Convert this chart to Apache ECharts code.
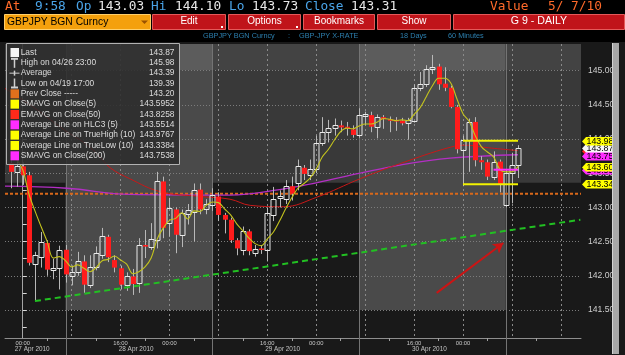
<!DOCTYPE html>
<html>
<head>
<meta charset="utf-8">
<script src="https://cdn.jsdelivr.net/npm/echarts@6.0.0/dist/echarts.min.js"></script>
<style>
html,body{margin:0;padding:0;background:#000;overflow:hidden;}
#chart{width:625px;height:355px;}
</style>
</head>
<body>
<div id="chart"></div>
<script>
// ---------------- data (hourly bars, hour 0 = 27 Apr 2010 00:00) ----------------
const hours = [-2,-1,0,1,2,3,4,5,6,7,8,9,10,11,12,13,14,15,16,17,18,19,20,21,22,23,24,25,26,27,28,29,30,31,32,33,34,35,36,37,38,39,40,41,42,43,44,45,46,47,48,49,50,51,52,53,54,55,56,57,58,59,60,61,62,63,64,65,66,67,68,69,70,71,72,73,74,75,76,77,78,79,80,81];
const opens = [
 143.65,143.52,143.60,143.47,142.17,142.28,142.48,142.10,142.11,142.38,
 142.00,142.06,142.21,141.87,142.13,142.31,142.57,142.23,142.11,141.87,
 141.99,141.89,142.45,142.42,142.52,143.38,142.77,142.97,142.60,142.91,
 142.94,143.26,142.98,143.03,143.16,142.89,142.82,142.52,142.38,142.65,
 142.34,142.40,142.38,142.89,143.14,143.12,143.31,143.35,143.58,143.47,
 143.56,143.94,144.10,144.16,144.20,144.18,144.14,144.06,144.34,144.35,
 144.17,144.32,144.29,144.28,144.27,144.24,144.26,144.74,144.80,145.04,
 145.06,144.81,144.75,144.47,143.84,143.99,144.25,143.69,143.66,143.45,
 143.67,143.04,143.50,143.62];
const closes = [
 143.52,143.60,143.47,142.19,142.31,142.50,142.09,142.12,142.38,142.02,
 142.06,142.21,141.87,142.13,142.33,142.58,142.27,142.12,141.87,142.00,
 141.88,142.45,142.43,142.54,143.38,142.70,142.99,142.60,142.92,142.96,
 143.26,142.97,143.05,143.18,142.89,142.82,142.52,142.40,142.66,142.36,
 142.39,142.39,142.92,143.13,143.16,143.31,143.20,143.60,143.49,143.56,
 143.94,144.10,144.16,144.20,144.17,144.17,144.06,144.35,144.36,144.18,
 144.32,144.29,144.28,144.27,144.23,144.28,144.74,144.80,145.03,145.06,
 144.80,144.75,144.47,143.85,143.99,144.25,143.69,143.66,143.45,143.67,
 143.34,143.50,143.62,143.87];
const lows = [
 143.28,143.30,143.33,142.15,141.63,142.12,142.00,141.95,141.80,141.90,
 141.86,142.00,141.75,141.82,142.08,142.25,142.20,142.05,141.80,141.78,
 141.72,141.75,142.26,142.38,142.40,142.55,142.57,142.33,142.42,142.75,
 142.50,142.90,142.90,142.95,142.80,142.62,142.48,142.30,142.30,142.30,
 142.28,142.32,142.21,142.80,143.00,143.05,143.10,143.25,143.40,143.40,
 143.50,143.90,143.95,144.05,144.10,144.05,144.02,144.02,144.20,144.10,
 144.01,144.15,144.10,144.12,144.20,143.99,144.24,144.70,144.76,144.95,
 144.72,144.70,144.45,143.79,143.31,143.52,143.60,143.55,143.40,143.40,
 143.22,143.00,143.06,143.43];
const highs = [
 143.72,143.70,143.66,143.52,142.35,142.64,142.52,142.25,142.44,142.45,
 142.15,142.35,142.30,142.30,142.43,142.70,142.60,142.30,142.15,142.05,
 142.10,142.55,142.67,142.77,143.52,143.45,143.14,143.00,142.97,143.05,
 143.35,143.35,143.12,143.28,143.22,142.92,142.85,142.55,142.72,142.68,
 142.45,142.45,143.00,143.30,143.25,143.40,143.45,143.70,143.62,143.70,
 144.05,144.32,144.28,144.30,144.27,144.25,144.20,144.45,144.40,144.40,
 144.36,144.35,144.33,144.32,144.31,144.31,144.80,144.98,145.08,145.23,
 145.10,145.05,144.78,144.50,144.05,144.30,144.32,143.75,143.70,143.82,
 143.70,143.55,143.80,143.91];
// SMAVG on Close(5), read per bar
const sma5 = [
 143.76,143.70,143.55,143.20,142.95,142.72,142.50,142.26,142.28,142.22,
 142.13,142.16,142.11,142.06,142.12,142.22,142.24,142.29,142.23,142.17,
 142.03,142.06,142.13,142.26,142.54,142.70,142.81,142.84,142.92,142.83,
 142.95,142.94,143.03,143.08,143.07,142.98,142.89,142.76,142.66,142.55,
 142.47,142.44,142.54,142.64,142.80,142.98,143.14,143.28,143.35,143.43,
 143.56,143.74,143.85,143.99,144.11,144.16,144.15,144.19,144.22,144.22,
 144.25,144.30,144.29,144.27,144.28,144.27,144.36,144.46,144.62,144.78,
 144.89,144.89,144.82,144.59,144.37,144.26,144.05,143.89,143.81,143.74,
 143.56,143.52,143.52,143.60];
// EMAVG on Close(50), read at points
const ema50Hours = [-2.9, 2, 7, 10, 12.2, 14.3, 17.5, 22.5, 29, 33.9, 37.2, 42.6, 48.1, 55.2, 61.7, 69.9, 72.6, 75.3, 81];
const ema50 = [144.74,144.45,144.12,143.95,143.78,143.58,143.42,143.23,143.16,143.12,143.03,143.01,143.15,143.42,143.64,143.88,143.91,143.88,143.83];
// SMAVG on Close(200), read at points
const sma200Hours = [-2.9, 7.2, 17.5, 33.9, 42, 48, 55.2, 61.7, 69.9, 81];
const sma200 = [143.31,143.28,143.19,143.18,143.26,143.36,143.50,143.62,143.72,143.77];
const prevClose = 143.20;
const trueHigh10 = 143.9767, trueLow10 = 143.3384, hlc3Avg = 143.5514;
const bandHours = [72, 81];
const hlcHours = [77, 81];
const trendHours = [2, 91.2];
const trendValues = [141.63, 142.82];
const arrowStart = [67.7, 141.75];
const arrowEnd = [78.6, 142.48];
// tags on the right price scale (drawn in this order)
const tagValues = [143.5514, 143.8258, 143.7538, 143.87, 143.9767, 143.5952, 143.3384];
// axes
const yLabelValues = [141.5, 142, 142.5, 143, 143.5, 144, 144.5, 145];
const yTickValues = [141.25,141.5,141.75,142,142.25,142.5,142.75,143,143.25,143.5,143.75,144,144.25,144.5,144.75,145,145.25];
const xLabelHours = [0, 16, 24, 40, 48, 64, 72];
const xLabelTexts = ['00:00','16:00','00:00','16:00','00:00','16:00','00:00'];
const xGridHours = [0,8,16,24,32,40,48,56,64,72,80,88];
const xTickHours = [4,12,20,28,36,44,52,60,68,76,84];
const sessionHours = [7, 31, 55, 79];
const dateLabelHours = [-1.3, 15.7, 39.65, 63.65];
const dateLabels = ['27 Apr 2010', '28 Apr 2010', '29 Apr 2010', '30 Apr 2010'];
// session shading: [fromHour, toHour, lowest price of shaded block]
const shadeSpans = [[-2.9, 7, 143.36], [7, 31, 141.5], [31, 55, 143.36], [55, 79, 141.5], [79, 91.3, 143.36]];
// legend
const legendNames = ['Last','High on 04/26 23:00','Average','Low on 04/19 17:00','Prev Close -----','SMAVG on Close(5)','EMAVG on Close(50)','Average Line on HLC3 (5)','Average Line on TrueHigh (10)','Average Line on TrueLow (10)','SMAVG on Close(200)'];
const legendValues = ['143.87','145.98','143.39','139.39','143.20','143.5952','143.8258','143.5514','143.9767','143.3384','143.7538'];
// header
const headerWords = ['At','9:58','Op','143.03','Hi','144.10','Lo','143.73','Close','143.31'];
const headerDate = ['Value', '5/ 7/10'];
const buttons = ['Edit', 'Options', 'Bookmarks', 'Show', 'G 9 - DAILY'];
const subHeader = ['GBPJPY BGN Curncy', ':', 'GBP-JPY X-RATE', '18 Days', '60 Minutes'];
const security = 'GBPJPY BGN Curncy';

// ---------------- layout / style ----------------
const X_MIN = -2.9, X_MAX = 91.3, Y_MIN = 141.09, Y_MAX = 145.39;
const SANS = '"Liberation Sans", Arial, sans-serif';
const MONO = '"DejaVu Sans Mono", monospace';

const chart = echarts.init(document.getElementById('chart'), null, {renderer: 'canvas'});

const candleData = hours.map((h, i) => [h, opens[i], closes[i], lows[i], highs[i]]);

function renderCandle(params, api) {
  const h = api.value(0), o = api.value(1), c = api.value(2), l = api.value(3), hi = api.value(4);
  const po = api.coord([h, o]), pc = api.coord([h, c]), pl = api.coord([h, l]), ph = api.coord([h, hi]);
  const cx = Math.round(po[0]) + 0.5;
  const top = Math.min(po[1], pc[1]), bot = Math.max(po[1], pc[1]);
  const up = c >= o;
  const children = [];
  if (up) {
    const t = Math.round(top) + 0.5;
    const b = Math.max(Math.round(bot) + 0.5, t + 2);
    children.push({type: 'line', shape: {x1: cx, y1: ph[1], x2: cx, y2: t}, style: {stroke: '#b8b8b8', lineWidth: 1}});
    children.push({type: 'line', shape: {x1: cx, y1: b, x2: cx, y2: pl[1]}, style: {stroke: '#b8b8b8', lineWidth: 1}});
    children.push({type: 'rect', shape: {x: cx - 2.5, y: t, width: 5, height: b - t}, style: {fill: 'rgba(0,0,0,0)', stroke: '#e8e8e8', lineWidth: 1}});
  } else {
    const bh = Math.max(bot - top, 1.6);
    children.push({type: 'line', shape: {x1: cx, y1: ph[1], x2: cx, y2: pl[1]}, style: {stroke: '#b8b8b8', lineWidth: 1}});
    children.push({type: 'rect', shape: {x: cx - 2.5, y: top, width: 5, height: bh}, style: {fill: '#ff1c1c'}});
  }
  return {type: 'group', children};
}

function renderShade(params, api) {
  const h0 = api.value(0), h1 = api.value(1), low = api.value(2);
  const a = api.coord([h0, Y_MAX]);
  const m = api.coord([h1, 145.0]);
  const b = api.coord([h1, low]);
  const light = low < 142;
  return {type: 'group', children: [
    {type: 'rect', shape: {x: a[0], y: a[1], width: b[0] - a[0], height: m[1] - a[1]}, style: {fill: light ? '#5c5c5c' : '#434343'}},
    {type: 'rect', shape: {x: a[0], y: m[1], width: b[0] - a[0], height: b[1] - m[1]}, style: {fill: light ? '#4a4a4a' : '#393939'}}
  ]};
}

function renderSession(params, api) {
  const h = api.value(0);
  const a = api.coord([h, Y_MAX]);
  const b = api.coord([h, Y_MIN]);
  const x = Math.round(a[0]) + 0.5;
  return {type: 'line', shape: {x1: x, y1: a[1], x2: x, y2: b[1] + 18}, style: {stroke: '#747474', lineWidth: 1}};
}

function renderDate(params, api) {
  const h = api.value(0), idx = api.value(1);
  const p = api.coord([h, Y_MIN]);
  return {type: 'text', x: p[0], y: p[1] + 11.5,
    style: {text: dateLabels[idx], fill: '#c4c4c4', font: '6.4px ' + SANS, align: 'left', verticalAlign: 'middle'}};
}

const tagColors = ['#ff2cff', '#ff2020', '#ff2cff', '#f6f6f6', '#ffff00', '#ffff00', '#ffff00'];
function renderTag(params, api) {
  const v = api.value(1), idx = api.value(2);
  const p = api.coord([X_MAX, v]);
  const x0 = p[0] + 1, y = Math.round(p[1]) + 0.5;
  return {type: 'group', children: [
    {type: 'polygon', shape: {points: [[x0, y], [x0 + 4, y - 4.5], [x0 + 30, y - 4.5], [x0 + 30, y + 4], [x0 + 4, y + 4]]},
     style: {fill: tagColors[idx]}},
    {type: 'text', x: x0 + 4.5, y: y,
     style: {text: v.toFixed(2), fill: '#000', font: '8.8px ' + SANS, align: 'left', verticalAlign: 'middle'}}
  ]};
}

const series = [
  {type: 'custom', name: 'shade', z: 0.5, silent: true, renderItem: renderShade,
   data: shadeSpans, encode: {x: [0, 1], y: 2}},
  {type: 'custom', name: 'sessions', z: 1.5, silent: true, clip: false, renderItem: renderSession,
   data: sessionHours.map(h => [h, Y_MIN]), encode: {x: 0, y: 1}},
  {type: 'custom', name: 'dates', z: 1.5, silent: true, clip: false, renderItem: renderDate,
   data: dateLabelHours.map((h, i) => [h, i]), encode: {x: 0}},
  {type: 'line', name: 'Prev Close', z: 2, silent: true, symbol: 'none',
   data: [[X_MIN, prevClose], [X_MAX, prevClose]],
   lineStyle: {color: '#d9681a', width: 2, type: [3, 2]}},
  {type: 'line', name: 'SMA200', z: 3, silent: true, symbol: 'none', smooth: 0.4,
   data: sma200Hours.map((h, i) => [h, sma200[i]]), lineStyle: {color: '#b32fc4', width: 1.3}},
  {type: 'line', name: 'EMA50', z: 3, silent: true, symbol: 'none', smooth: 0.4,
   data: ema50Hours.map((h, i) => [h, ema50[i]]), lineStyle: {color: '#c81818', width: 1}},
  {type: 'custom', name: 'GBPJPY', z: 4, silent: true, renderItem: renderCandle,
   data: candleData, encode: {x: 0, y: [1, 2, 3, 4]}},
  {type: 'line', name: 'SMA5', z: 5, silent: true, symbol: 'none', smooth: 0.35,
   data: hours.map((h, i) => [h, sma5[i]]), lineStyle: {color: '#c4c41e', width: 1.1}},
  {type: 'line', name: 'TrueHigh', z: 5, silent: true, symbol: 'none',
   data: bandHours.map(h => [h, trueHigh10]), lineStyle: {color: '#f2f200', width: 2}},
  {type: 'line', name: 'TrueLow', z: 5, silent: true, symbol: 'none',
   data: bandHours.map(h => [h, trueLow10]), lineStyle: {color: '#f2f200', width: 2}},
  {type: 'line', name: 'HLC3', z: 5, silent: true, symbol: 'none',
   data: hlcHours.map(h => [h, hlc3Avg]), lineStyle: {color: '#ff2cff', width: 2}},
  {type: 'line', name: 'Trend', z: 5, silent: true, symbol: 'none',
   data: trendHours.map((h, i) => [h, trendValues[i]]), lineStyle: {color: '#22c022', width: 2, type: [6, 4]},
   markLine: {silent: true, animation: false, symbol: ['none', 'arrow'], symbolSize: [9, 10],
     label: {show: false}, lineStyle: {color: '#cc1414', width: 2, type: 'solid'},
     data: [[{coord: arrowStart}, {coord: arrowEnd}]]}},
  {type: 'custom', name: 'tags', z: 10, silent: true, clip: false, renderItem: renderTag,
   data: tagValues.map((v, i) => [X_MAX, v, i]), encode: {x: 0, y: 1}}
];

// ---------------- graphic (header + legend box) ----------------
const G = [];
function txt(x, y, text, fill, font, align, z) {
  return {type: 'text', x: x, y: y, z: z || 100, silent: true,
          style: {text: text, fill: fill, font: font, align: align || 'left', verticalAlign: 'middle'}};
}
function rect(x, y, w, h, fill, stroke, z) {
  return {type: 'rect', z: z || 100, silent: true, shape: {x: x, y: y, width: w, height: h},
          style: {fill: fill, stroke: stroke || null, lineWidth: 1}};
}
// header background
G.push(rect(0, 0, 625, 42, '#000000', null, 90));
// row 1
const headerX = [5, 35, 76, 98, 151, 175, 229, 252, 305, 351];
const headerColors = ['#ff6a2a', '#4aa4e8', '#4aa4e8', '#e8e8e8', '#4aa4e8', '#e8e8e8', '#4aa4e8', '#e8e8e8', '#4aa4e8', '#e8e8e8'];
headerWords.forEach((w, i) => G.push(txt(headerX[i], 7, w, headerColors[i], '12.8px ' + MONO)));
G.push(txt(490, 7, headerDate[0], '#ff6a2a', '12.8px ' + MONO));
G.push(txt(548, 7, headerDate[1], '#ff6a2a', '12.8px ' + MONO));
// row 2
G.push(rect(4.5, 14.5, 146, 15, '#f4a00c', '#ffcf6a'));
G.push(txt(7, 22.5, security, '#000', '10.3px ' + SANS));
G.push({type: 'polygon', z: 101, silent: true, shape: {points: [[141, 20.5], [148, 20.5], [144.5, 24]]}, style: {fill: '#9a5200'}});
const btnX = [[152, 226], [228, 301], [303, 375], [377, 451], [453, 625]];
buttons.forEach((b, i) => {
  const x0 = btnX[i][0], x1 = btnX[i][1];
  G.push(rect(x0 + 0.5, 14.5, x1 - x0 - 1, 15, '#c0141a', '#e45a5a'));
  G.push(txt((x0 + x1) / 2, 21.5, b, '#ffffff', (i === 4 ? '10.6px ' : '10px ') + SANS, 'center'));
});
G.push(rect(221, 26, 2, 2, '#ffffff', null, 102));
G.push(rect(296, 26, 2, 2, '#ffffff', null, 102));
// row 3
const subX = [203, 288, 299, 400, 448];
subHeader.forEach((s, i) => G.push(txt(subX[i], 35.5, s, '#2c7fae', '7.3px ' + SANS)));
// scrollbar
G.push(rect(612, 43, 7, 311, '#a8a8a8', null, 90));
G.push(rect(612, 43, 1, 311, '#d4d4d4', null, 91));
// legend box
G.push(rect(6.5, 43.5, 173, 121, 'rgba(44,44,44,0.86)', '#b2b2b2', 95));
const iconColors = ['#f4f4f4', null, null, null, '#e0701c', '#ffff00', '#ff2a1a', '#ff2cff', '#ffff00', '#ffff00', '#ff2cff'];
legendNames.forEach((n, i) => {
  const y = 52.5 + i * 10.33;
  if (iconColors[i]) {
    G.push(rect(10.5, y - 4.5, 8.5, 9, iconColors[i], null, 101));
  } else if (i === 1) {
    G.push({type: 'line', z: 101, silent: true, shape: {x1: 11, y1: y - 4, x2: 18, y2: y - 4}, style: {stroke: '#d0d0d0', lineWidth: 2}});
    G.push({type: 'line', z: 101, silent: true, shape: {x1: 14.5, y1: y - 4, x2: 14.5, y2: y + 5}, style: {stroke: '#d0d0d0', lineWidth: 1.5}});
  } else if (i === 2) {
    G.push({type: 'line', z: 101, silent: true, shape: {x1: 9.5, y1: y, x2: 19.5, y2: y}, style: {stroke: '#d0d0d0', lineWidth: 1}});
    G.push({type: 'line', z: 101, silent: true, shape: {x1: 14.5, y1: y - 2.5, x2: 14.5, y2: y + 2.5}, style: {stroke: '#d0d0d0', lineWidth: 1.5}});
  } else if (i === 3) {
    G.push({type: 'line', z: 101, silent: true, shape: {x1: 14.5, y1: y - 5, x2: 14.5, y2: y + 4}, style: {stroke: '#d0d0d0', lineWidth: 1.5}});
    G.push({type: 'line', z: 101, silent: true, shape: {x1: 11, y1: y + 4, x2: 18, y2: y + 4}, style: {stroke: '#d0d0d0', lineWidth: 2}});
  }
  G.push(txt(20.7, y, n, '#dcdcdc', '8.4px ' + SANS, 'left', 101));
  G.push(txt(174.5, y, legendValues[i], '#dcdcdc', '8.4px ' + SANS, 'right', 101));
});

const option = {
  animation: false,
  backgroundColor: '#191919',
  grid: {left: 5, right: 44, top: 44, bottom: 17, containLabel: false, outerBoundsMode: 'none'},
  xAxis: [
    {type: 'value', position: 'bottom', min: X_MIN, max: X_MAX, z: 1,
     axisLine: {show: true, lineStyle: {color: '#8e8e8e', width: 1}},
     axisTick: {show: true, customValues: xTickHours, length: 3, lineStyle: {color: '#a0a0a0'}},
     axisLabel: {show: true, customValues: xLabelHours, margin: 2.5, color: '#c8c8c8', fontFamily: SANS, fontSize: 5.8,
                 formatter: v => xLabelTexts[xLabelHours.indexOf(v)] || ''},
     splitLine: {show: false}},
    {type: 'value', position: 'top', min: X_MIN, max: X_MAX, z: 1,
     axisLine: {show: false}, axisLabel: {show: false},
     axisTick: {show: false, customValues: xGridHours},
     splitLine: {show: true, lineStyle: {color: '#8a8a8a', width: 1, type: [2, 3]}}}
  ],
  yAxis: [
    {type: 'value', position: 'right', min: Y_MIN, max: Y_MAX, z: 1,
     axisLine: {show: true, lineStyle: {color: '#a4a4a4', width: 1}},
     axisTick: {show: true, customValues: yTickValues, length: 4, lineStyle: {color: '#d8d8d8'}},
     axisLabel: {show: true, customValues: yLabelValues, margin: 7, color: '#cdcdcd', fontFamily: SANS, fontSize: 8.6,
                 formatter: v => Number(v).toFixed(2)},
     splitLine: {show: false}},
    {type: 'value', position: 'left', min: Y_MIN, max: Y_MAX, z: 1,
     axisLine: {show: false}, axisLabel: {show: false},
     axisTick: {show: false, customValues: yLabelValues},
     splitLine: {show: true, lineStyle: {color: '#7c7c7c', width: 1, type: [1, 2]}}}
  ],
  series: series,
  graphic: {elements: G}
};
chart.setOption(option);
</script>
</body>
</html>
